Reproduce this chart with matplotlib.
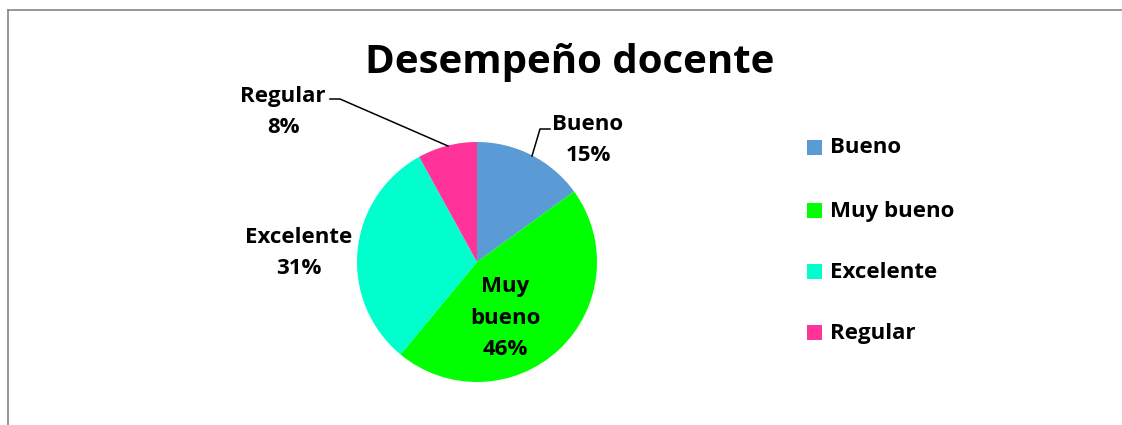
import matplotlib
matplotlib.use("Agg")
import matplotlib.pyplot as plt
from matplotlib.lines import Line2D
from matplotlib.patches import Rectangle

categories = ["Bueno", "Muy bueno", "Excelente", "Regular"]
values = [15, 46, 31, 8]
colors = ["#5B9BD5", "#00FF00", "#00FFCC", "#FF3399"]
title = "Desempeño docente"

plt.rcParams['font.family'] = ['Open Sans', 'DejaVu Sans']
W, H = 1122, 425
fig = plt.figure(figsize=(W / 100, H / 100), dpi=100)

def fx(x):
    return x / W

def fy(y):
    return 1 - y / H

# border
fig.add_artist(Line2D([fx(8), 1], [fy(10), fy(10)], color="#868686", lw=1.2))
fig.add_artist(Line2D([fx(8), fx(8)], [fy(10), 0], color="#868686", lw=1.2))

cx, cy, r = 477, 262, 120
ax = fig.add_axes([fx(cx - r), fy(cy + r), 2 * r / W, 2 * r / H])
wedges, _ = ax.pie(values, colors=colors, startangle=90, counterclock=False,
                   radius=1, wedgeprops=dict(linewidth=0))
ax.set_xlim(-1, 1)
ax.set_ylim(-1, 1)
ax.set_aspect('equal')
ax.axis('off')

fig.text(fx(570), fy(63), title, ha='center', va='center', fontsize=29,
         fontweight='bold')

# data labels
label_pos = {
    "Bueno": (588, 140),
    "Muy bueno": (505, 318),
    "Excelente": (299, 253),
    "Regular": (283, 112),
}
for cat, v in zip(categories, values):
    x, y = label_pos[cat]
    txt = cat.replace(" ", "\n") + "\n" + f"{v}%"
    fig.text(fx(x), fy(y), txt, ha='center', va='center', fontsize=16,
             fontweight='bold', linespacing=1.68)

# leader lines
fig.add_artist(Line2D([fx(330), fx(340), fx(448)], [fy(99), fy(99), fy(146)],
                      color="black", lw=1.1))
fig.add_artist(Line2D([fx(532), fx(540), fx(550)], [fy(156), fy(129), fy(129)],
                      color="black", lw=1.1))

# legend
leg_y = [148, 211, 272, 333]
for cat, c, y in zip(categories, colors, leg_y):
    fig.add_artist(Rectangle((fx(807), fy(y + 7)), 15 / W, 15 / H,
                             facecolor=c, edgecolor='none'))
    fig.text(fx(830), fy(y), cat, ha='left', va='center', fontsize=16,
             fontweight='bold')

fig.savefig("out.png", dpi=100)
